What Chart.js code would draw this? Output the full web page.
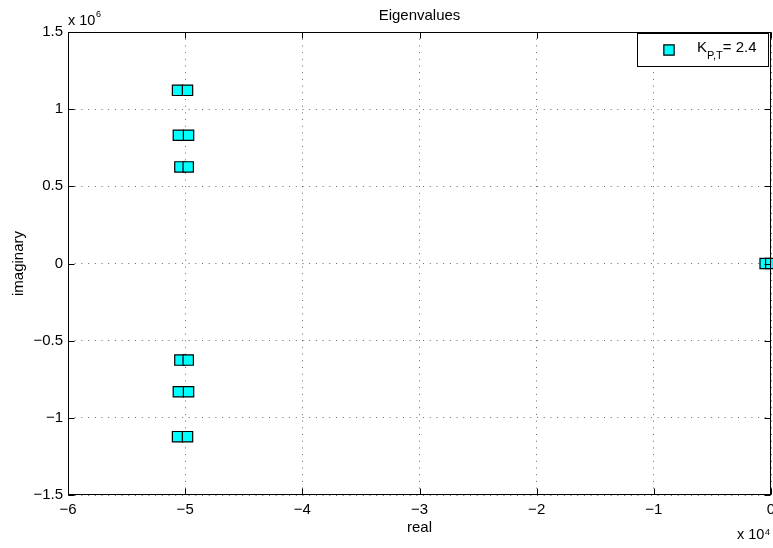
<!DOCTYPE html>
<html>
<head>
<meta charset="utf-8">
<style>
  html, body { margin: 0; padding: 0; background: #fff; }
  canvas { display: block; }
</style>
<script src="https://cdn.jsdelivr.net/npm/chart.js@4/dist/chart.umd.min.js"></script>
</head>
<body>
<canvas id="eig" width="773" height="548"></canvas>
<script>
// Closed-loop eigenvalues (real, imaginary) for K_P,T = 2.4
const realParts = [-50650, -49800, -50580, -49710, -50450, -49740,
                   -50450, -49740, -50580, -49710, -50650, -49800,
                   -500, -20];
const imagParts = [1.122e6, 1.122e6, 0.831e6, 0.831e6, 0.626e6, 0.626e6,
                   -0.626e6, -0.626e6, -0.831e6, -0.831e6, -1.122e6, -1.122e6,
                   0, 0];
const xTicks = [-6, -5, -4, -3, -2, -1, 0];          // x 10^4
const yTicks = [-1.5, -1, -0.5, 0, 0.5, 1, 1.5];     // x 10^6
const seriesLabel = 'K_P,T = 2.4';

const FONT = "'Liberation Sans', Arial, Helvetica, sans-serif";
const minus = s => String(s).replace('-', '\u2212');

const points = realParts.map((x, i) => ({ x: x, y: imagParts[i] }));

// Axes box, inward ticks, exponent labels, axis titles and legend
const matlabFrame = {
  id: 'matlabFrame',
  afterDraw(chart) {
    const ctx = chart.ctx;
    const a = chart.chartArea;
    const xs = chart.scales.x, ys = chart.scales.y;
    const L = Math.round(a.left) + 0.5, R = Math.round(a.right) - 0.5;
    const T = Math.round(a.top) + 0.5, B = Math.round(a.bottom) - 0.5;
    ctx.save();
    ctx.strokeStyle = '#000';
    ctx.lineWidth = 1;
    ctx.strokeRect(L, T, R - L, B - T);
    const tk = 6;
    ctx.beginPath();
    xTicks.forEach(v => {
      const px = Math.round(xs.getPixelForValue(v * 1e4)) + 0.5;
      ctx.moveTo(px, B); ctx.lineTo(px, B - tk);
      ctx.moveTo(px, T); ctx.lineTo(px, T + tk);
    });
    yTicks.forEach(v => {
      const py = Math.round(ys.getPixelForValue(v * 1e6)) + 0.5;
      ctx.moveTo(L, py); ctx.lineTo(L + tk, py);
      ctx.moveTo(R, py); ctx.lineTo(R - tk, py);
    });
    ctx.stroke();

    ctx.fillStyle = '#000';
    ctx.textBaseline = 'alphabetic';
    // title
    ctx.font = '15px ' + FONT;
    ctx.textAlign = 'center';
    ctx.fillText('Eigenvalues', (a.left + a.right) / 2, 20);
    // x axis title
    ctx.fillText('real', (a.left + a.right) / 2, 532);
    // y axis title
    ctx.save();
    ctx.translate(23, (a.top + a.bottom) / 2);
    ctx.rotate(-Math.PI / 2);
    ctx.fillText('imaginary', 0, 0);
    ctx.restore();

    // exponent multipliers
    ctx.textAlign = 'left';
    ctx.font = '14.5px ' + FONT;
    ctx.fillText('x 10', 68, 25);
    let w = ctx.measureText('x 10').width;
    ctx.font = '9px ' + FONT;
    ctx.fillText('6', 68 + w + 0.5, 17);
    ctx.font = '14.5px ' + FONT;
    ctx.fillText('x 10', 737, 539);
    w = ctx.measureText('x 10').width;
    ctx.font = '9px ' + FONT;
    ctx.fillText('4', 737 + w + 0.5, 535);

    // legend
    const bx = 637.5, by = 33.5, bw = 131, bh = 33;
    ctx.fillStyle = '#fff';
    ctx.fillRect(bx, by, bw, bh);
    ctx.strokeStyle = '#000';
    ctx.lineWidth = 1;
    ctx.strokeRect(bx, by, bw, bh);
    const ds = chart.data.datasets[0];
    ctx.fillStyle = ds.pointBackgroundColor;
    ctx.strokeStyle = ds.pointBorderColor;
    ctx.lineWidth = ds.pointBorderWidth;
    ctx.beginPath();
    const s = ds.pointRadius * Math.SQRT1_2;
    ctx.rect(669 - s, 50 - s, 2 * s, 2 * s);
    ctx.fill(); ctx.stroke();

    const parts = ds.label.split(/_| = /);   // ['K', 'P,T', '2.4']
    ctx.fillStyle = '#000';
    ctx.font = '15px ' + FONT;
    let x = 697;
    ctx.fillText(parts[0], x, 52);
    x += ctx.measureText(parts[0]).width;
    ctx.font = '11px ' + FONT;
    ctx.fillText(parts[1], x, 59);
    x += ctx.measureText(parts[1]).width;
    ctx.font = '15px ' + FONT;
    ctx.fillText('= ' + parts[2], x, 52);
    ctx.restore();
  }
};

new Chart(document.getElementById('eig'), {
  type: 'scatter',
  data: {
    datasets: [{
      label: seriesLabel,
      data: points,
      pointStyle: 'rect',
      pointRadius: 7.3,
      pointHoverRadius: 7.3,
      pointBackgroundColor: '#00ffff',
      pointBorderColor: '#000',
      pointBorderWidth: 1.2,
      clip: false
    }]
  },
  options: {
    responsive: false,
    animation: false,
    devicePixelRatio: 1,
    layout: { autoPadding: false, padding: { top: 32, right: 2, left: 0, bottom: 0 } },
    plugins: {
      legend: { display: false },
      title: { display: false },
      tooltip: { enabled: false }
    },
    scales: {
      x: {
        type: 'linear',
        min: -60000, max: 0,
        afterBuildTicks: sc => { sc.ticks = xTicks.map(v => ({ value: v * 1e4 })); },
        afterFit: sc => { sc.height = 53; sc.paddingLeft = 0; sc.paddingRight = 0; },
        grid: { color: 'rgba(0,0,0,0.6)', lineWidth: 1, drawTicks: false },
        border: { display: false, dash: [1, 5.7] },
        ticks: {
          padding: 6,
          color: '#000',
          font: { family: FONT, size: 15 },
          maxRotation: 0,
          callback: v => minus(Math.round(v / 1e4))
        }
      },
      y: {
        type: 'linear',
        min: -1.5e6, max: 1.5e6,
        afterBuildTicks: sc => { sc.ticks = yTicks.map(v => ({ value: v * 1e6 })); },
        afterFit: sc => { sc.width = 68; sc.paddingTop = 0; sc.paddingBottom = 0; },
        grid: { color: 'rgba(0,0,0,0.6)', lineWidth: 1, drawTicks: false },
        border: { display: false, dash: [1, 5.7] },
        ticks: {
          padding: 5,
          color: '#000',
          font: { family: FONT, size: 15 },
          callback: v => minus(Math.round(v / 1e5) / 10)
        }
      }
    }
  },
  plugins: [matlabFrame]
});
</script>
</body>
</html>
